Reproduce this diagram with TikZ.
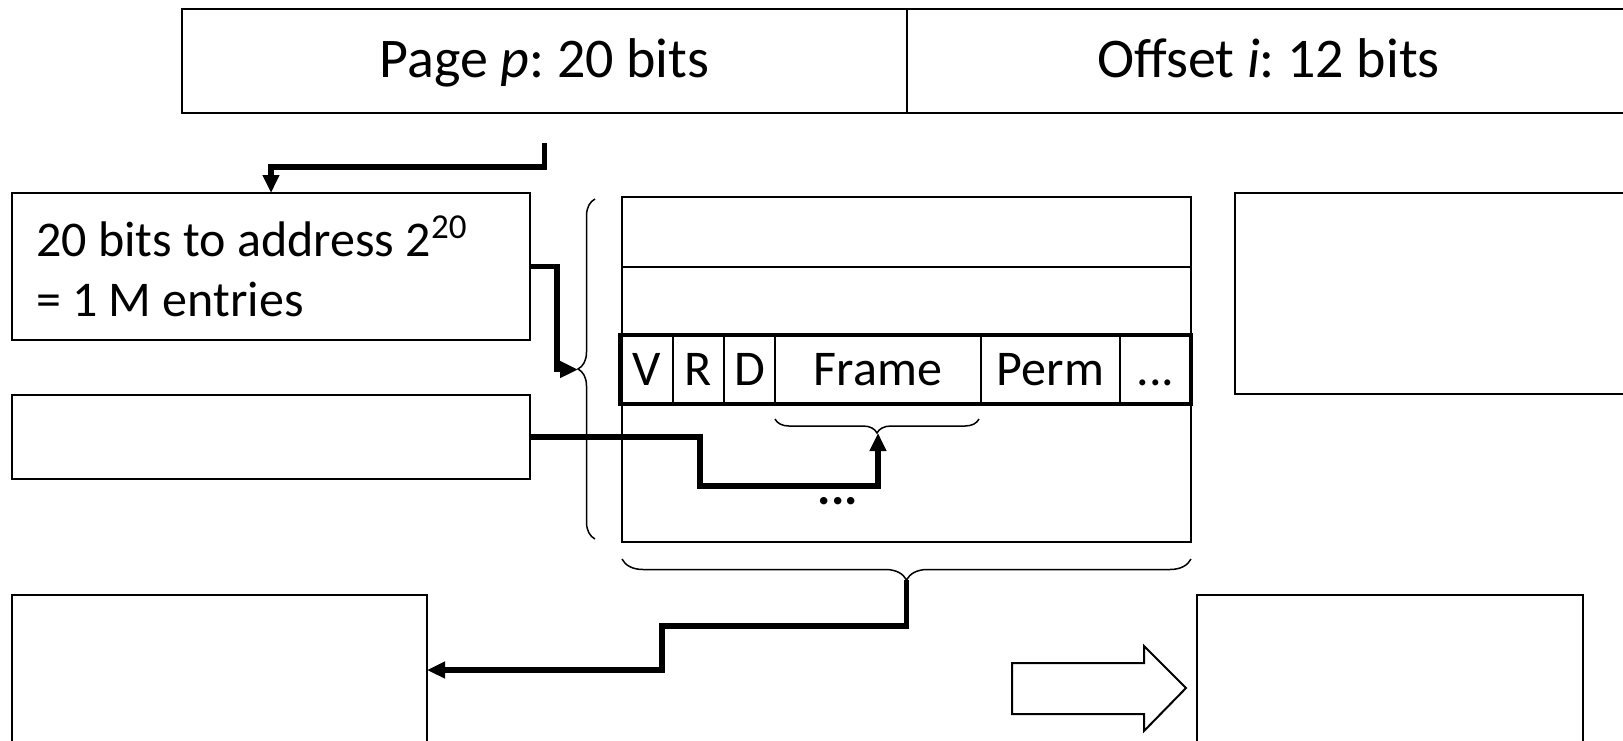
\documentclass[tikz,border=0pt]{standalone}
\usepackage{fontspec}
\setmainfont{Carlito}
\frenchspacing
\usetikzlibrary{positioning, arrows.meta, decorations.pathreplacing, calc}

\tikzset{
  box/.style={draw, line width=1pt, inner sep=0pt, outer sep=0pt},
  cell/.style={draw, line width=0.7pt, inner sep=0pt, outer sep=0pt, minimum height=34.5pt, text height=17pt, text depth=1pt, font=\fontsize{25}{30}\selectfont},
  conn/.style={line width=2.6pt, -{Triangle[length=9pt,width=8pt]}},
  brc/.style={decorate, line width=0.75pt},
}

\begin{document}
\begin{tikzpicture}[x=0.5pt, y=-0.5pt]
  \useasboundingbox (0,0) rectangle (1623,740);
  \clip (0,0) rectangle (1623,740);
  % virtual address
  \node[box, minimum width=362.5pt, minimum height=52pt, text depth=2.5pt, font=\fontsize{28}{34}\selectfont] (page) at (544.5,61) {Page \textit{p}: 20 bits};
  \node[box, minimum width=361.5pt, minimum height=52pt, text depth=2.5pt, font=\fontsize{28}{34}\selectfont] (offset) at (1268.5,61) {Offset \textit{i}: 12 bits};
  \coordinate (pstart) at ($(page.south)+(0,30)$);

  % left boxes
  \node[box, minimum width=259pt, minimum height=73.5pt, text width=235pt, inner xsep=12pt, align=flush left, font=\fontsize{25}{30}\selectfont] (addr) at (271,266.5) {20 bits to address 2\textsuperscript{20}\\= 1 M entries};
  \node[box, minimum width=259pt, minimum height=42pt] (idx) at (271,437) {};

  % page table
  \node[box, minimum width=284.5pt, minimum height=35pt] (row1) at (906.5,232) {};
  \node[box, line width=1.2pt, minimum width=284.5pt, minimum height=172.5pt] (table) at (906.5,369.5) {};
  \node[cell, minimum width=26.5pt] (cV) at (646.5,369.5) {V};
  \node[cell, minimum width=25.5pt, right=0pt of cV] (cR) {R};
  \node[cell, minimum width=25.5pt, right=0pt of cR] (cD) {D};
  \node[cell, minimum width=103pt, right=0pt of cD] (cFrame) {Frame};
  \node[cell, minimum width=69.5pt, right=0pt of cFrame] (cPerm) {Perm};
  \node[cell, minimum width=35.5pt, right=0pt of cPerm] (cMore) {...};
  \draw[line width=1.8pt] (cV.north west) rectangle (cMore.south east);
  \node[font=\bfseries\fontsize{25}{30}\selectfont, inner sep=0pt] (more) at (838,501) {...};

  % braces
  \draw[brc, decoration={brace, amplitude=8.5pt}] ($(table.south west)+(-27,-3)$) -- ($(table.north west)+(-27,2)$);
  \draw[brc, decoration={brace, amplitude=7pt}] ($(cFrame.south east)+(-2,15)$) -- ($(cFrame.south west)+(0,15)$);
  \draw[brc, decoration={brace, amplitude=10.5pt}] ($(table.south east)+(0,17)$) -- ($(table.south west)+(0,17)$);
  \coordinate (ltip) at ($(table.west)+(-44,0)$);
  \coordinate (ftip) at ($(cFrame.south)+(0,29)$);
  \coordinate (btip) at ($(table.south)+(0,38)$);

  % other boxes
  \node[box, minimum width=202.5pt, minimum height=100.5pt] (side) at (1437.5,293.5) {};
  \node[box, minimum width=207.5pt, minimum height=75pt] (lower) at (219.5,670) {};
  \node[box, minimum width=193pt, minimum height=75pt] (target) at (1390,670) {};
  \draw[line width=1pt] (1012,663) -- (1144,663) -- (1144,646) -- (1186,688) -- (1144,731) -- (1144,714) -- (1012,714) -- cycle;

  % connectors
  \draw[conn] (pstart) -- ++(0,24) -| (addr.north);
  \draw[conn] (addr.east) -- ++(27,0) |- (ltip);
  \draw[conn] (idx.east) -| ($(ftip)+(-178,53)$) -| (ftip);
  \draw[conn] (btip) -- ++(0,46) -| ($(lower.east)+(235,0)$) -- (lower.east);
\end{tikzpicture}
\end{document}
